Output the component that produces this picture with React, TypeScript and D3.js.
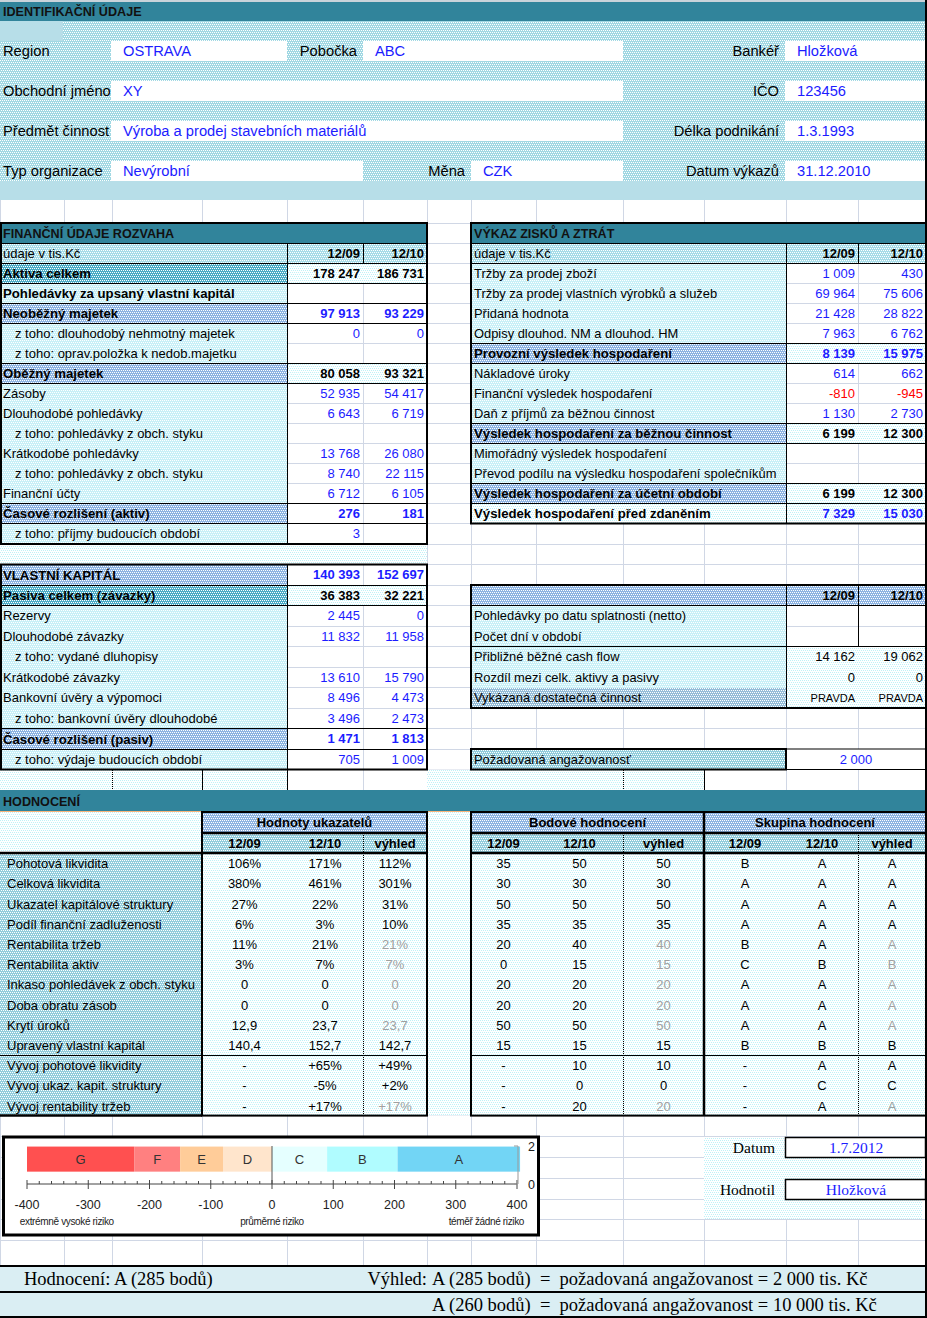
import React from "react";
import * as d3 from "d3";

// ---------- identifikační údaje ----------
const idLabelsLeft = ["Region", "Obchodní jméno", "Předmět činnost", "Typ organizace"];
const idValuesLeft = ["OSTRAVA", "XY", "Výroba a prodej stavebních materiálů", "Nevýrobní"];
const idLabelsMid = ["Pobočka", "", "", "Měna"];
const idValuesMid = ["ABC", "", "", "CZK"];
const idLabelsRight = ["Bankéř", "IČO", "Délka podnikání", "Datum výkazů"];
const idValuesRight = ["Hložková", "123456", "1.3.1993", "31.12.2010"];

// ---------- rozvaha ----------
const periods = ["12/09", "12/10"];
const assetLabels = [
  "údaje v tis.Kč", "Aktiva celkem", "Pohledávky za upsaný vlastní kapitál", "Neoběžný majetek",
  "z toho: dlouhodobý nehmotný majetek", "z toho: oprav.položka k nedob.majetku", "Oběžný majetek",
  "Zásoby", "Dlouhodobé pohledávky", "z toho: pohledávky z obch. styku", "Krátkodobé pohledávky",
  "z toho: pohledávky z obch. styku", "Finanční účty", "Časové rozlišení (aktiv)", "z toho: příjmy budoucích období",
];
const assetKinds = "HTPBssKnnsnsnBs".split("");
const assets09 = [null, 178247, null, 97913, 0, null, 80058, 52935, 6643, null, 13768, 8740, 6712, 276, 3];
const assets10 = [null, 186731, null, 93229, 0, null, 93321, 54417, 6719, null, 26080, 22115, 6105, 181, null];

const liabLabels = [
  "VLASTNÍ KAPITÁL", "Pasiva celkem (závazky)", "Rezervy", "Dlouhodobé závazky", "z toho: vydané dluhopisy",
  "Krátkodobé závazky", "Bankovní úvěry a výpomoci", "z toho: bankovní úvěry dlouhodobé",
  "Časové rozlišení (pasiv)", "z toho: výdaje budoucích období",
];
const liabKinds = "BTnnsnnsBs".split("");
const liab09 = [140393, 36383, 2445, 11832, null, 13610, 8496, 3496, 1471, 705];
const liab10 = [152697, 32221, 0, 11958, null, 15790, 4473, 2473, 1813, 1009];

// ---------- výkaz zisků a ztrát ----------
const plLabels = [
  "údaje v tis.Kč", "Tržby za prodej zboží", "Tržby za prodej vlastních výrobků a služeb", "Přidaná hodnota",
  "Odpisy dlouhod. NM a dlouhod. HM", "Provozní výsledek hospodaření", "Nákladové úroky",
  "Finanční výsledek hospodaření", "Daň z příjmů za běžnou činnost", "Výsledek hospodaření za běžnou činnost",
  "Mimořádný výsledek hospodaření", "Převod podílu na výsledku hospodaření společníkům",
  "Výsledek hospodaření za účetní období", "Výsledek hospodaření před zdaněním",
];
const plKinds = "HnnnnQnnnKnnKR".split("");
const pl09 = [null, 1009, 69964, 21428, 7963, 8139, 614, -810, 1130, 6199, null, null, 6199, 7329];
const pl10 = [null, 430, 75606, 28822, 6762, 15975, 662, -945, 2730, 12300, null, null, 12300, 15030];

const extraLabels = [
  "", "Pohledávky po datu splatnosti (netto)", "Počet dní v období", "Přibližné běžné cash flow",
  "Rozdíl mezi celk. aktivy a pasivy", "Vykázaná dostatečná činnost",
];
const extraKinds = "VEEccX".split("");
const extra09: (number | boolean | null)[] = [null, null, null, 14162, 0, true];
const extra10: (number | boolean | null)[] = [null, null, null, 19062, 0, true];
const requiredLabel = "Požadovaná angažovanosť";
const requiredValue = 2000;

// ---------- hodnocení ----------
const indicatorLabels = [
  "Pohotová likvidita", "Celková likvidita", "Ukazatel kapitálové struktury", "Podíl finanční zadluženosti",
  "Rentabilita tržeb", "Rentabilita aktiv", "Inkaso pohledávek z obch. styku", "Doba obratu zásob",
  "Krytí úroků", "Upravený vlastní kapitál", "Vývoj pohotové likvidity", "Vývoj ukaz. kapit. struktury",
  "Vývoj rentability tržeb",
];
const indicatorFormats = ["pct", "pct", "pct", "pct", "pct", "pct", "int", "int", "dec", "dec", "chg", "chg", "chg"];
const indicator09 = [106, 380, 27, 6, 11, 3, 0, 0, 12.9, 140.4, null, null, null];
const indicator10 = [171, 461, 22, 3, 21, 7, 0, 0, 23.7, 152.7, 65, -5, 17];
const indicatorOutlook = [112, 301, 31, 10, 21, 7, 0, 0, 23.7, 142.7, 49, 2, 17];
const outlookCarried = [false, false, false, false, true, true, true, true, true, false, false, false, true];
const points09 = [35, 30, 50, 35, 20, 0, 20, 20, 50, 15, null, null, null];
const points10 = [50, 30, 50, 35, 40, 15, 20, 20, 50, 15, 10, 0, 20];
const pointsOutlook = [50, 30, 50, 35, 40, 15, 20, 20, 50, 15, 10, 0, 20];
const grade09 = ["B", "A", "A", "A", "B", "C", "A", "A", "A", "B", null, null, null];
const grade10 = ["A", "A", "A", "A", "A", "B", "A", "A", "A", "B", "A", "C", "A"];
const gradeOutlook = ["A", "A", "A", "A", "A", "B", "A", "A", "A", "B", "A", "C", "A"];
const subPeriods = ["12/09", "12/10", "výhled"];

// ---------- stupnice rizika ----------
const riskGrades = ["G", "F", "E", "D", "C", "B", "A"];
const riskBounds = [-400, -225, -150, -80, 0, 90, 205, 405];
const riskNotes = ["extrémně vysoké riziko", "průměrné riziko", "téměř žádné riziko"];
const riskNoteAt = [-335, 0, 350];

const evalDate = "1.7.2012";
const evaluator = "Hložková";
const resultGrade = "A";
const resultPoints = 285;
const outlookGrade = "A";
const outlookPoints = 285;
const outlookAmount = 2000;
const altGrade = "A";
const altPoints = 260;
const altAmount = 10000;

// ---------- layout ----------
const W = 927;
const H = 1318;
const GRID = "#D0D7E5";
const SANS = "'Liberation Sans', Arial, sans-serif";
const SERIF = "'Liberation Serif', 'Times New Roman', serif";
const BLUE = "#1C1CFF";
const COLS = [0, 64, 112, 202, 287, 363, 427, 471, 536, 623, 704, 786, 858, 926];
const rowY = (k: number) => (k <= 14 ? 223 + 20 * k : 503 + 20.5 * (k - 14));
const hRowY = (i: number) => 853 + 20.2 * i;
const bottomRows = [1115, 1136, 1157, 1178, 1199, 1219, 1240, 1265];
const SP2 = "\u00a0\u00a0";

const locale = d3.formatLocale({ decimal: ",", thousands: "\u00a0", grouping: [3], currency: ["", ""], minus: "-" });
const fmtInt = locale.format(",d");
const fmtDec = locale.format(".1f");
const fmtChg = locale.format("+d");

const PATTERNS: Record<string, [string, string]> = {
  id: ["#A1D8E3", "#FFFFFF"],
  lab: ["#C8F0F7", "#FFFFFF"],
  colh: ["#A6DCE8", "#FFFFFF"],
  teal: ["#4BACC6", "#FFFFFF"],
  blue: ["#8DB4E2", "#FFFFFF"],
  dot: ["#FFFFFF", "#BDF2F8"],
  hlab: ["#92CDDC", "#FFFFFF"],
  gblue: ["#95BDD8", "#FFFFFF"],
};

const KIND: Record<string, any> = {
  H: { lab: "colh", val: "colh", header: true, strong: true },
  V: { lab: "blue", val: "blue", header: true, strong: true },
  T: { lab: "teal", val: "dot", bold: true, color: "#000", strong: true },
  P: { lab: "lab", val: "white", bold: true, color: "#000", strong: true },
  B: { lab: "blue", val: "white", bold: true, color: BLUE, strong: true },
  K: { lab: "blue", val: "dot", bold: true, color: "#000", strong: true },
  Q: { lab: "blue", val: "dot", bold: true, color: BLUE, strong: true },
  R: { lab: "dot", val: "dot", bold: true, color: BLUE, strong: true },
  n: { lab: "lab", val: "white", color: BLUE },
  s: { lab: "lab", val: "white", color: BLUE, indent: true },
  c: { lab: "lab", val: "dot", color: "#000" },
  E: { lab: "lab", val: "white", color: "#000" },
  X: { lab: "gblue", val: "dot", color: "#000", small: true },
};

const fillOf = (f: string) => (f === "white" ? "#FFFFFF" : `url(#p-${f})`);

function Cell({ x0, x1, y0, y1, fill }: any) {
  const white = fill === "white";
  return (
    <rect x={x0} y={y0} width={x1 - x0} height={y1 - y0} fill={fillOf(fill)}
      stroke={white ? GRID : "none"} shapeRendering="crispEdges" />
  );
}

function fmtValue(v: any) {
  if (v === null || v === undefined) return "";
  if (typeof v === "boolean") return v ? "PRAVDA" : "NEPRAVDA";
  return fmtInt(v);
}

function DataTable({ x0, xa, xb, x1, k0, labels, kinds, a, b, size }: any) {
  const cells: any[] = [];
  const lines: any[] = [];
  const texts: any[] = [];
  labels.forEach((label: string, i: number) => {
    const k = k0 + i;
    const y0 = rowY(k);
    const y1 = rowY(k + 1);
    const cy = (y0 + y1) / 2;
    const st = KIND[kinds[i]];
    cells.push(<Cell key={`l${i}`} x0={x0} x1={xa} y0={y0} y1={y1} fill={st.lab} />);
    cells.push(<Cell key={`a${i}`} x0={xa} x1={xb} y0={y0} y1={y1} fill={st.val} />);
    cells.push(<Cell key={`b${i}`} x0={xb} x1={x1} y0={y0} y1={y1} fill={st.val} />);
    texts.push(
      <text key={`t${i}`} x={x0 + (st.indent ? 15 : 3)} y={cy} dy="0.36em"
        fontSize={st.bold ? 13.2 : size} fontWeight={st.bold ? "bold" : "normal"}>{label}</text>
    );
    const vals = st.header ? periods : [fmtValue(a[i]), fmtValue(b[i])];
    [xb, x1].forEach((xr, j) => {
      const raw = st.header ? null : j === 0 ? a[i] : b[i];
      const color = st.header ? "#000" : typeof raw === "number" && raw < 0 ? "#FF0000" : st.color;
      texts.push(
        <text key={`v${i}${j}`} x={xr - 3} y={cy} dy="0.36em" textAnchor="end"
          fontSize={st.small ? 11 : 13} fontWeight={st.header || st.bold ? "bold" : "normal"} fill={color}>
          {vals[j]}
        </text>
      );
    });
    if (i > 0) {
      const prev = KIND[kinds[i - 1]];
      if (st.strong || prev.strong || (kinds[i - 1] === "E" && kinds[i] !== "E")) {
        lines.push(<line key={`h${i}`} x1={x0} x2={x1} y1={y0} y2={y0} stroke="#000" />);
      }
    }
    if (st.header || kinds[i] === "E") {
      lines.push(<line key={`vb${i}`} x1={xb} x2={xb} y1={y0} y2={y1} stroke="#000" />);
    }
  });
  const top = rowY(k0);
  const bottom = rowY(k0 + labels.length);
  lines.push(<line key="va" x1={xa} x2={xa} y1={top} y2={bottom} stroke="#000" />);
  return (
    <g fontFamily={SANS}>
      {cells}
      <g shapeRendering="crispEdges">{lines}</g>
      {texts}
    </g>
  );
}

function Outline({ x0, y0, x1, y1 }: any) {
  return <rect x={x0} y={y0} width={x1 - x0} height={y1 - y0} fill="none" stroke="#000" strokeWidth={2} />;
}

function fmtIndicator(v: any, f: string) {
  if (v === null) return "-";
  if (f === "pct") return `${v}%`;
  if (f === "dec") return fmtDec(v);
  if (f === "chg") return `${fmtChg(v)}%`;
  return `${v}`;
}

function RiskScale() {
  const x = d3.scaleLinear().domain([-400, 400]).range([27, 517]);
  const y = d3.scaleLinear().domain([0, 2]).range([1184, 1146]);
  const band = d3.scaleBand().domain(["skala"]).range([y(0.65), y(1.97)]);
  const color = d3.scaleOrdinal<string, string>()
    .domain(riskGrades)
    .range(["#FF5050", "#FF8080", "#FFCC99", "#FFE5CC", "#E5FFFF", "#B0FCFF", "#72D5F5"]);
  const by = band("skala") as number;
  const bh = band.bandwidth();
  const top = Math.min(by, by + bh);
  const hh = Math.abs(bh);
  const major = x.ticks(8);
  const minor = d3.range(-400, 401, 20).filter((v) => v % 100 !== 0);
  return (
    <g fontFamily={SANS}>
      <rect x={3.5} y={1137} width={535} height={98} fill="#FFFFFF" stroke="#000" strokeWidth={3} />
      {riskGrades.map((g, i) => {
        const x0 = x(riskBounds[i]);
        const x1 = x(riskBounds[i + 1]);
        return (
          <g key={g}>
            <rect x={x0} y={top} width={x1 - x0} height={hh} fill={color(g)} />
            <text x={(x0 + x1) / 2} y={top + hh / 2} dy="0.36em"
              textAnchor="middle" fontSize={13} fill="#333">{g}</text>
          </g>
        );
      })}
      <line x1={x(0)} x2={x(0)} y1={y(2)} y2={y(0)} stroke="#555" />
      <line x1={x(-400)} x2={x(400)} y1={y(0)} y2={y(0)} stroke="#444" />
      {major.map((v) => (
        <g key={v}>
          <line x1={x(v)} x2={x(v)} y1={y(0) - 4} y2={y(0) + 5} stroke="#444" />
          <text x={x(v)} y={1204} dy="0.36em" textAnchor="middle" fontSize={12.5} fill="#222">{v}</text>
        </g>
      ))}
      {minor.map((v) => (
        <line key={v} x1={x(v)} x2={x(v)} y1={y(0) - 3} y2={y(0)} stroke="#444" />
      ))}
      <line x1={x(400) + 1} x2={x(400) + 1} y1={y(2)} y2={y(0)} stroke="#999" />
      <line x1={x(400) - 3} x2={x(400) + 1} y1={y(2)} y2={y(2)} stroke="#999" />
      <line x1={x(400) - 3} x2={x(400) + 1} y1={y(0)} y2={y(0)} stroke="#999" />
      {[0, 2].map((v) => (
        <text key={v} x={x(400) + 11} y={y(v)} dy="0.36em" fontSize={12.5} fill="#222">{v}</text>
      ))}
      {riskNotes.map((t, i) => (
        <text key={t} x={x(riskNoteAt[i])} y={1221} dy="0.36em" textAnchor="middle" fontSize={10}
          letterSpacing={-0.35} fill="#222">{t}</text>
      ))}
    </g>
  );
}

export default function App() {
  const gridRows = [...d3.range(0, 29).map(rowY), ...bottomRows];
  const leftBoxEnd = [287, 623, 623, 363];
  const midBoxStart = [363, 0, 0, 471];
  const hCols = [202, 287, 363, 427];
  const bCols = [471, 536, 623, 704];
  const sCols = [704, 786, 858, 926];
  const nInd = indicatorLabels.length;
  const hBottom = hRowY(nInd);

  return (
    <>
      <style>{"body{margin:0}"}</style>
      <svg width={W} height={H} style={{ display: "block" }}>
        <defs>
          {Object.entries(PATTERNS).map(([id, [base, dot]]) => (
            <pattern key={id} id={`p-${id}`} width={4} height={4} patternUnits="userSpaceOnUse">
              <rect width={4} height={4} fill={base} />
              <rect x={0} y={0} width={1} height={1} fill={dot} />
              <rect x={2} y={0} width={1} height={1} fill={dot} />
              <rect x={1} y={2} width={1} height={1} fill={dot} />
              <rect x={3} y={2} width={1} height={1} fill={dot} />
            </pattern>
          ))}
        </defs>

        {/* podklad a mřížka */}
        <rect width={W} height={H} fill="#FFFFFF" />
        <g stroke={GRID} shapeRendering="crispEdges">
          {COLS.map((c) => <line key={`c${c}`} x1={c} x2={c} y1={0} y2={H} />)}
          {gridRows.map((r, i) => <line key={`r${i}`} x1={0} x2={W} y1={r} y2={r} />)}
        </g>

        {/* identifikační údaje */}
        <rect x={0} y={0} width={W} height={2} fill="#C9D3DA" />
        <rect x={0} y={2} width={W} height={19} fill="#31849B" />
        <text x={3} y={11.5} dy="0.36em" fontFamily={SANS} fontSize={12.6} fontWeight="bold" fill="#111">
          IDENTIFIKAČNÍ ÚDAJE
        </text>
        <rect x={0} y={21} width={W} height={160} fill={fillOf("id")} />
        <rect x={0} y={21} width={63} height={20} fill="#B7DEE8" />
        <rect x={0} y={181} width={W} height={19} fill="#B7DEE8" />
        <g fontFamily={SANS} fontSize={14.7}>
          {idLabelsLeft.map((lab, i) => {
            const y0 = 41 + 40 * i;
            const cy = y0 + 10;
            return (
              <g key={lab}>
                <rect x={111} y={y0} width={leftBoxEnd[i] - 111} height={20} fill="#FFFFFF" />
                <rect x={785} y={y0} width={140} height={20} fill="#FFFFFF" />
                <text x={3} y={cy} dy="0.36em">{lab}</text>
                <text x={123} y={cy} dy="0.36em" fill={BLUE}>{idValuesLeft[i]}</text>
                {idLabelsMid[i] && (
                  <>
                    <rect x={midBoxStart[i]} y={y0} width={623 - midBoxStart[i]} height={20} fill="#FFFFFF" />
                    <text x={midBoxStart[i] - 6} y={cy} dy="0.36em" textAnchor="end">{idLabelsMid[i]}</text>
                    <text x={midBoxStart[i] + 12} y={cy} dy="0.36em" fill={BLUE}>{idValuesMid[i]}</text>
                  </>
                )}
                <text x={779} y={cy} dy="0.36em" textAnchor="end">{idLabelsRight[i]}</text>
                <text x={797} y={cy} dy="0.36em" fill={BLUE}>{idValuesRight[i]}</text>
              </g>
            );
          })}
        </g>

        {/* rozvaha */}
        <rect x={0} y={rowY(0)} width={427} height={20} fill="#31849B" />
        <text x={3} y={rowY(0) + 10.5} dy="0.36em" fontFamily={SANS} fontSize={12.6} fontWeight="bold" fill="#111">
          FINANČNÍ ÚDAJE ROZVAHA
        </text>
        <DataTable x0={0} xa={287} xb={363} x1={427} k0={1} labels={assetLabels} kinds={assetKinds}
          a={assets09} b={assets10} size={13} />
        <rect x={0} y={rowY(16)} width={427} height={rowY(17) - rowY(16)} fill={fillOf("dot")} />
        <DataTable x0={0} xa={287} xb={363} x1={427} k0={17} labels={liabLabels} kinds={liabKinds}
          a={liab09} b={liab10} size={13} />
        <rect x={0} y={rowY(27)} width={287} height={rowY(28) - rowY(27)} fill={fillOf("dot")} />
        <rect x={427} y={rowY(27)} width={277} height={rowY(28) - rowY(27)} fill={fillOf("dot")} />
        <g shapeRendering="crispEdges">
          <line x1={0} x2={427} y1={rowY(1)} y2={rowY(1)} stroke="#000" />
          <line x1={112} x2={112} y1={rowY(27)} y2={rowY(28)} stroke="#000" strokeDasharray="1,1" />
          <line x1={202} x2={202} y1={rowY(27)} y2={rowY(28)} stroke="#000" />
          <line x1={287} x2={287} y1={rowY(27)} y2={rowY(28)} stroke="#000" />
          <line x1={623} x2={623} y1={rowY(27)} y2={rowY(28)} stroke="#000" strokeDasharray="1,1" />
          <line x1={704} x2={704} y1={rowY(27)} y2={rowY(28)} stroke="#000" />
        </g>
        <Outline x0={1} y0={rowY(0)} x1={427} y1={rowY(16)} />
        <Outline x0={1} y0={rowY(17)} x1={427} y1={rowY(27)} />

        {/* výkaz zisků a ztrát */}
        <rect x={471} y={rowY(0)} width={455} height={20} fill="#31849B" />
        <text x={474} y={rowY(0) + 10.5} dy="0.36em" fontFamily={SANS} fontSize={12.6} fontWeight="bold" fill="#111">
          VÝKAZ ZISKŮ A ZTRÁT
        </text>
        <DataTable x0={471} xa={786} xb={858} x1={926} k0={1} labels={plLabels} kinds={plKinds}
          a={pl09} b={pl10} size={12.9} />
        <line x1={471} x2={926} y1={rowY(1)} y2={rowY(1)} stroke="#000" shapeRendering="crispEdges" />
        <Outline x0={471} y0={rowY(0)} x1={926} y1={rowY(15)} />
        <DataTable x0={471} xa={786} xb={858} x1={926} k0={18} labels={extraLabels} kinds={extraKinds}
          a={extra09} b={extra10} size={12.9} />
        <Outline x0={471} y0={rowY(18)} x1={926} y1={rowY(24)} />

        <rect x={471} y={rowY(26)} width={315} height={rowY(27) - rowY(26)} fill={fillOf("hlab")} />
        <rect x={786} y={rowY(26)} width={140} height={rowY(27) - rowY(26)} fill="#FFFFFF" stroke="#000" />
        <Outline x0={471} y0={rowY(26)} x1={786} y1={rowY(27)} />
        <text x={474} y={(rowY(26) + rowY(27)) / 2} dy="0.36em" fontFamily={SANS} fontSize={12.9}>{requiredLabel}</text>
        <text x={856} y={(rowY(26) + rowY(27)) / 2} dy="0.36em" fontFamily={SANS} fontSize={13}
          textAnchor="middle" fill={BLUE}>{fmtInt(requiredValue)}</text>

        {/* hodnocení */}
        <rect x={0} y={790} width={926} height={21} fill="#31849B" />
        <line x1={0} x2={926} y1={811.5} y2={811.5} stroke="#F9B47A" />
        <text x={3} y={801} dy="0.36em" fontFamily={SANS} fontSize={12.6} fontWeight="bold" fill="#111">HODNOCENÍ</text>
        <rect x={0} y={812} width={926} height={hBottom - 812} fill={fillOf("dot")} />
        <rect x={0} y={853} width={202} height={hBottom - 853} fill={fillOf("hlab")} />
        <rect x={202} y={812} width={225} height={21} fill={fillOf("blue")} />
        <rect x={471} y={812} width={455} height={21} fill={fillOf("blue")} />
        <rect x={202} y={833} width={225} height={20} fill={fillOf("hlab")} />
        <rect x={471} y={833} width={455} height={20} fill={fillOf("hlab")} />
        <g fontFamily={SANS} fontSize={13}>
          <text x={314.5} y={822.5} dy="0.36em" textAnchor="middle" fontWeight="bold">Hodnoty ukazatelů</text>
          <text x={587.5} y={822.5} dy="0.36em" textAnchor="middle" fontWeight="bold">Bodové hodnocení</text>
          <text x={815} y={822.5} dy="0.36em" textAnchor="middle" fontWeight="bold">Skupina hodnocení</text>
          {[hCols, bCols, sCols].map((cols, b) =>
            subPeriods.map((p, j) => (
              <text key={`sp${b}${j}`} x={(cols[j] + cols[j + 1]) / 2} y={843} dy="0.36em"
                textAnchor="middle" fontWeight="bold">{p}</text>
            ))
          )}
          {indicatorLabels.map((lab, i) => {
            const cy = hRowY(i) + 10.5;
            const gray = outlookCarried[i] ? "#A0A0A0" : "#000";
            const hv = [indicator09[i], indicator10[i], indicatorOutlook[i]].map((v) => fmtIndicator(v, indicatorFormats[i]));
            const pv = [points09[i], points10[i], pointsOutlook[i]].map((v) => (v === null ? "-" : `${v}`));
            const gv = [grade09[i], grade10[i], gradeOutlook[i]].map((v) => (v === null ? "-" : v));
            return (
              <g key={lab}>
                <text x={7} y={cy} dy="0.36em">{lab}</text>
                {[hv, pv, gv].map((vals, b) => {
                  const cols = [hCols, bCols, sCols][b];
                  return vals.map((v, j) => (
                    <text key={`${b}${j}`} x={(cols[j] + cols[j + 1]) / 2} y={cy}
                      dy="0.36em" textAnchor="middle" fill={j === 2 ? gray : "#000"}>{v}</text>
                  ));
                })}
              </g>
            );
          })}
        </g>
        <g shapeRendering="crispEdges">
          {[363, 623, 858].map((xv) => (
            <line key={xv} x1={xv} x2={xv} y1={833} y2={hBottom} stroke="#000" strokeDasharray="1,1" />
          ))}
          <line x1={0} x2={427} y1={hRowY(10)} y2={hRowY(10)} stroke="#000" />
          <line x1={471} x2={926} y1={hRowY(10)} y2={hRowY(10)} stroke="#000" />
        </g>
        <g stroke="#000" strokeWidth={2.5}>
          <line x1={0} x2={427} y1={853} y2={853} />
          <line x1={202} x2={427} y1={833} y2={833} />
          <line x1={471} x2={926} y1={853} y2={853} />
          <line x1={471} x2={926} y1={833} y2={833} />
          <line x1={704} x2={704} y1={812} y2={hBottom} />
          <line x1={0} x2={202} y1={hBottom} y2={hBottom} />
        </g>
        <Outline x0={202} y0={812} x1={427} y1={hBottom} />
        <Outline x0={471} y0={812} x1={926} y1={hBottom} />

        {/* stupnice */}
        <RiskScale />

        {/* datum a hodnotitel */}
        <rect x={704} y={1137} width={218} height={82} fill={fillOf("dot")} />
        <g fontFamily={SERIF} fontSize={15.5}>
          {[["Datum", evalDate, 1137], ["Hodnotil", evaluator, 1179]].map(([lab, val, y0]: any) => (
            <g key={lab}>
              <rect x={785.5} y={y0 + 0.5} width={140} height={20} fill="#FFFFFF" stroke="#000" strokeWidth={1.5} />
              <text x={775} y={y0 + 10} dy="0.36em" textAnchor="end">{lab}</text>
              <text x={856} y={y0 + 10} dy="0.36em" textAnchor="middle" fill={BLUE}>{val}</text>
            </g>
          ))}
        </g>

        {/* souhrn */}
        <rect x={0} y={1266} width={926} height={51} fill="#DAEEF3" />
        <g stroke="#000" strokeWidth={2}>
          <line x1={0} x2={926} y1={1266} y2={1266} />
          <line x1={0} x2={926} y1={1292} y2={1292} />
          <line x1={0} x2={926} y1={1317} y2={1317} />
        </g>
        <g fontFamily={SERIF} fontSize={18.5}>
          <text x={24} y={1279} dy="0.34em">{`Hodnocení: ${resultGrade} (${resultPoints} bodů)`}</text>
          <text x={427} y={1279} dy="0.34em" textAnchor="end">Výhled:</text>
          <text x={432} y={1279} dy="0.34em">
            {`${outlookGrade} (${outlookPoints} bodů)${SP2}=${SP2}požadovaná angažovanost = ${fmtInt(outlookAmount)} tis. Kč`}
          </text>
          <text x={432} y={1305} dy="0.34em">
            {`${altGrade} (${altPoints} bodů)${SP2}=${SP2}požadovaná angažovanost = ${fmtInt(altAmount)} tis. Kč`}
          </text>
        </g>

        <rect x={925} y={0} width={2} height={H} fill="#000" />
      </svg>
    </>
  );
}
